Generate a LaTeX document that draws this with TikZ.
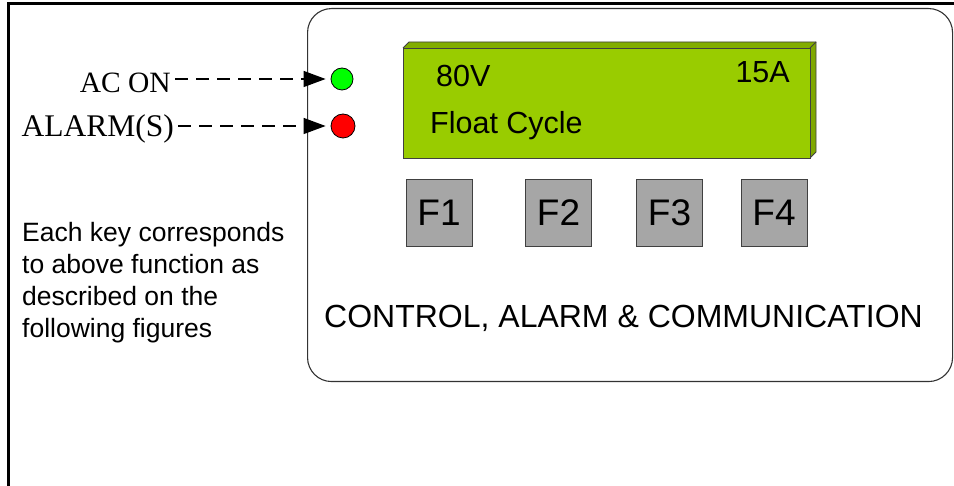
\documentclass[tikz,border=0pt]{standalone}
\usepackage{fontspec}
\setmainfont{Liberation Sans}
\newfontfamily\timesf{Liberation Serif}
\usetikzlibrary{arrows.meta}
\definecolor{lcdgreen}{HTML}{99CC00}
\definecolor{lcdside}{HTML}{7FA800}
\definecolor{keygray}{HTML}{A6A6A6}
\definecolor{edgegray}{HTML}{404040}
\tikzset{
  keybox/.style={draw=edgegray, line width=1pt, fill=keygray, minimum width=66pt, minimum height=67pt, inner sep=0pt, font=\fontsize{37}{40}\selectfont},
  sidelabel/.style={inner sep=4pt, font=\timesf\fontsize{29.5}{32}\selectfont},
  lamp/.style={circle, draw=black, line width=0.8pt, inner sep=0pt},
  dasharrow/.style={line width=1.3pt, dash pattern=on 13pt off 8pt, -{Triangle[length=22pt,width=16pt]}, shorten >=5pt},
  lcdtext/.style={inner sep=0pt, font=\fontsize{30.5}{34}\selectfont},
}
\begin{document}
\begin{tikzpicture}[x=1pt,y=-1pt]
\useasboundingbox (0,0) rectangle (954,486);
% outer frame (partially visible)
\draw[line width=3pt] (8,492) -- (8,4) -- (960,4);
% panel
\node[draw=black!80, line width=1.1pt, rounded corners=24pt, minimum width=645pt, minimum height=373pt, inner sep=0pt, anchor=north west] (panel) at (307,8) {};
% LCD
\fill[lcdgreen!85!black] (403,48) -- (409,42) -- (816,42) -- (810,48) -- cycle;
\fill[lcdside] (810,48) -- (816,42) -- (816,152) -- (810,158) -- cycle;
\draw[edgegray, line width=0.8pt] (403,48) -- (409,42) -- (816,42) -- (816,152) -- (810,158);
\draw[edgegray, line width=0.8pt] (810,48) -- (816,42);
\node[draw=edgegray, line width=0.8pt, fill=lcdgreen, minimum width=407pt, minimum height=110pt, inner sep=0pt, anchor=north west] (lcd) at (403,48) {};
\node[lcdtext, anchor=base west] (volt) at (436,87) {80V};
\node[lcdtext, anchor=base east] (amp) at (790,83) {15A};
\node[lcdtext, anchor=base west] (mode) at (430,134) {Float Cycle};
% keys
\node[keybox] (f1) at (439,213) {F1};
\node[keybox] (f2) at (558.5,213) {F2};
\node[keybox] (f3) at (669.5,213) {F3};
\node[keybox] (f4) at (774,213) {F4};
% caption
\node[inner sep=0pt, anchor=base west, font=\fontsize{32}{36}\selectfont] (caption) at (324,328) {CONTROL, ALARM \& COMMUNICATION};
% lamps
\node[lamp, fill=green, minimum size=22pt] (green) at (342,79) {};
\node[lamp, fill=red, minimum size=24pt] (red) at (343,126) {};
% labels
\node[sidelabel, anchor=base east] (acon) at (175,93) {AC ON};
\node[sidelabel, anchor=base east, font=\timesf\fontsize{31.5}{34}\selectfont] (alarm) at (178,137) {ALARM(S)};
\draw[dasharrow] (acon.east |- green) -- (green);
\draw[dasharrow] (alarm.east |- red) -- (red);
% note
\node[inner sep=0pt, anchor=north west, align=left, font=\fontsize{26.5}{32}\selectfont] (note) at (22,222) {Each key corresponds\\to above function as\\described on the\\following figures};
\end{tikzpicture}
\end{document}
